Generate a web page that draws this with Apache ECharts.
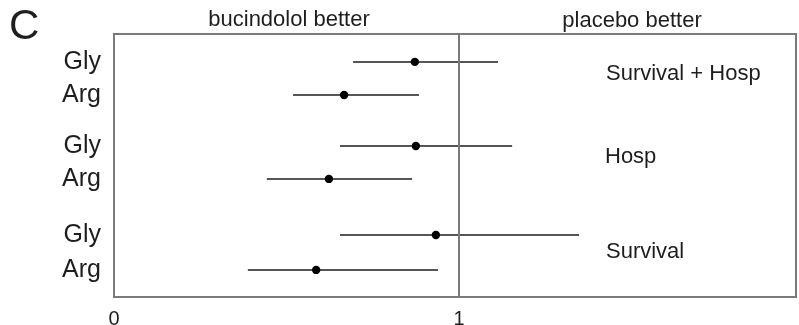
<!DOCTYPE html>
<html>
<head>
<meta charset="utf-8">
<script src="https://cdn.jsdelivr.net/npm/echarts@6/dist/echarts.min.js"></script>
<style>
  html, body { margin: 0; padding: 0; background: #fff; }
  #chart { width: 799px; height: 325px; }
</style>
</head>
<body>
<div id="chart"></div>
<script>
// Hazard ratios with 95% CI by beta-1 receptor genotype, three endpoints
const genotypes = ['Gly', 'Arg', 'Gly', 'Arg', 'Gly', 'Arg'];
const rowY      = [1.06, 2.32, 4.26, 5.51, 7.64, 8.97];
const estimate  = [0.872, 0.667, 0.875, 0.623, 0.933, 0.586];
const lower     = [0.693, 0.519, 0.655, 0.443, 0.655, 0.388];
const upper     = [1.113, 0.884, 1.154, 0.864, 1.348, 0.939];
const endpoints = ['Survival + Hosp', 'Hosp', 'Survival'];
const xTicks    = [0, 1, 2];

const FONT = '"Liberation Sans", Arial, Helvetica, sans-serif';
const INK = '#1e1e1e';

const ciData = genotypes.map((g, i) => [estimate[i], rowY[i], lower[i], upper[i]]);
const labelData = genotypes.map((g, i) => ({ name: g, value: [0, rowY[i]] }));

const chart = echarts.init(document.getElementById('chart'), null, { renderer: 'canvas' });

chart.setOption({
  animation: false,
  backgroundColor: '#fff',
  grid: { left: 114, top: 34, width: 690, height: 263, containLabel: false, outerBoundsMode: 'none' },
  xAxis: {
    type: 'value', min: 0, max: 2, interval: 1,
    axisLine: { show: false }, axisTick: { show: false }, splitLine: { show: false },
    axisLabel: {
      margin: 12, color: INK, fontSize: 20, fontFamily: FONT,
      showMinLabel: true, showMaxLabel: true, hideOverlap: false,
      formatter: v => xTicks.includes(v) ? String(v) : ''
    }
  },
  yAxis: {
    type: 'value', min: 0, max: 10, inverse: true,
    axisLine: { show: false }, axisTick: { show: false }, splitLine: { show: false },
    axisLabel: { show: false }
  },
  graphic: [
    { type: 'rect', shape: { x: 114, y: 34, width: 682, height: 263 },
      style: { fill: 'none', stroke: '#7a7a7a', lineWidth: 2 }, z: 1 },
    { type: 'text', x: 9, y: 27,
      style: { text: 'C', fontSize: 42, fontFamily: FONT, fill: INK, verticalAlign: 'middle' } },
    { type: 'text', x: 289, y: 20,
      style: { text: 'bucindolol better', fontSize: 22, fontFamily: FONT, fill: INK,
               align: 'center', verticalAlign: 'middle' } },
    { type: 'text', x: 632, y: 21,
      style: { text: 'placebo better', fontSize: 22, fontFamily: FONT, fill: INK,
               align: 'center', verticalAlign: 'middle' } },
    { type: 'text', x: 606, y: 74,
      style: { text: endpoints[0], fontSize: 22, fontFamily: FONT, fill: INK, verticalAlign: 'middle' } },
    { type: 'text', x: 605, y: 157,
      style: { text: endpoints[1], fontSize: 22, fontFamily: FONT, fill: INK, verticalAlign: 'middle' } },
    { type: 'text', x: 606, y: 252,
      style: { text: endpoints[2], fontSize: 22, fontFamily: FONT, fill: INK, verticalAlign: 'middle' } }
  ],
  series: [
    {
      type: 'custom',
      data: ciData,
      z: 3,
      renderItem: (params, api) => {
        const y = api.value(1);
        const p0 = api.coord([api.value(2), y]);
        const p1 = api.coord([api.value(3), y]);
        const pc = api.coord([api.value(0), y]);
        return {
          type: 'group',
          children: [
            { type: 'line', shape: { x1: p0[0], y1: p0[1], x2: p1[0], y2: p1[1] },
              style: { stroke: '#555', lineWidth: 2 } },
            { type: 'circle', shape: { cx: pc[0], cy: pc[1], r: 4.2 },
              style: { fill: '#000' } }
          ]
        };
      },
      markLine: {
        silent: true, symbol: 'none', label: { show: false },
        lineStyle: { color: '#7a7a7a', width: 2, type: 'solid' },
        data: [{ xAxis: 1 }]
      }
    },
    {
      type: 'scatter',
      data: labelData,
      symbolSize: 0,
      silent: true,
      itemStyle: { opacity: 1 },
      label: {
        show: true, position: 'left', distance: 13, opacity: 1,
        formatter: p => p.name,
        color: INK, fontSize: 25, fontFamily: FONT
      }
    }
  ]
});
</script>
</body>
</html>
